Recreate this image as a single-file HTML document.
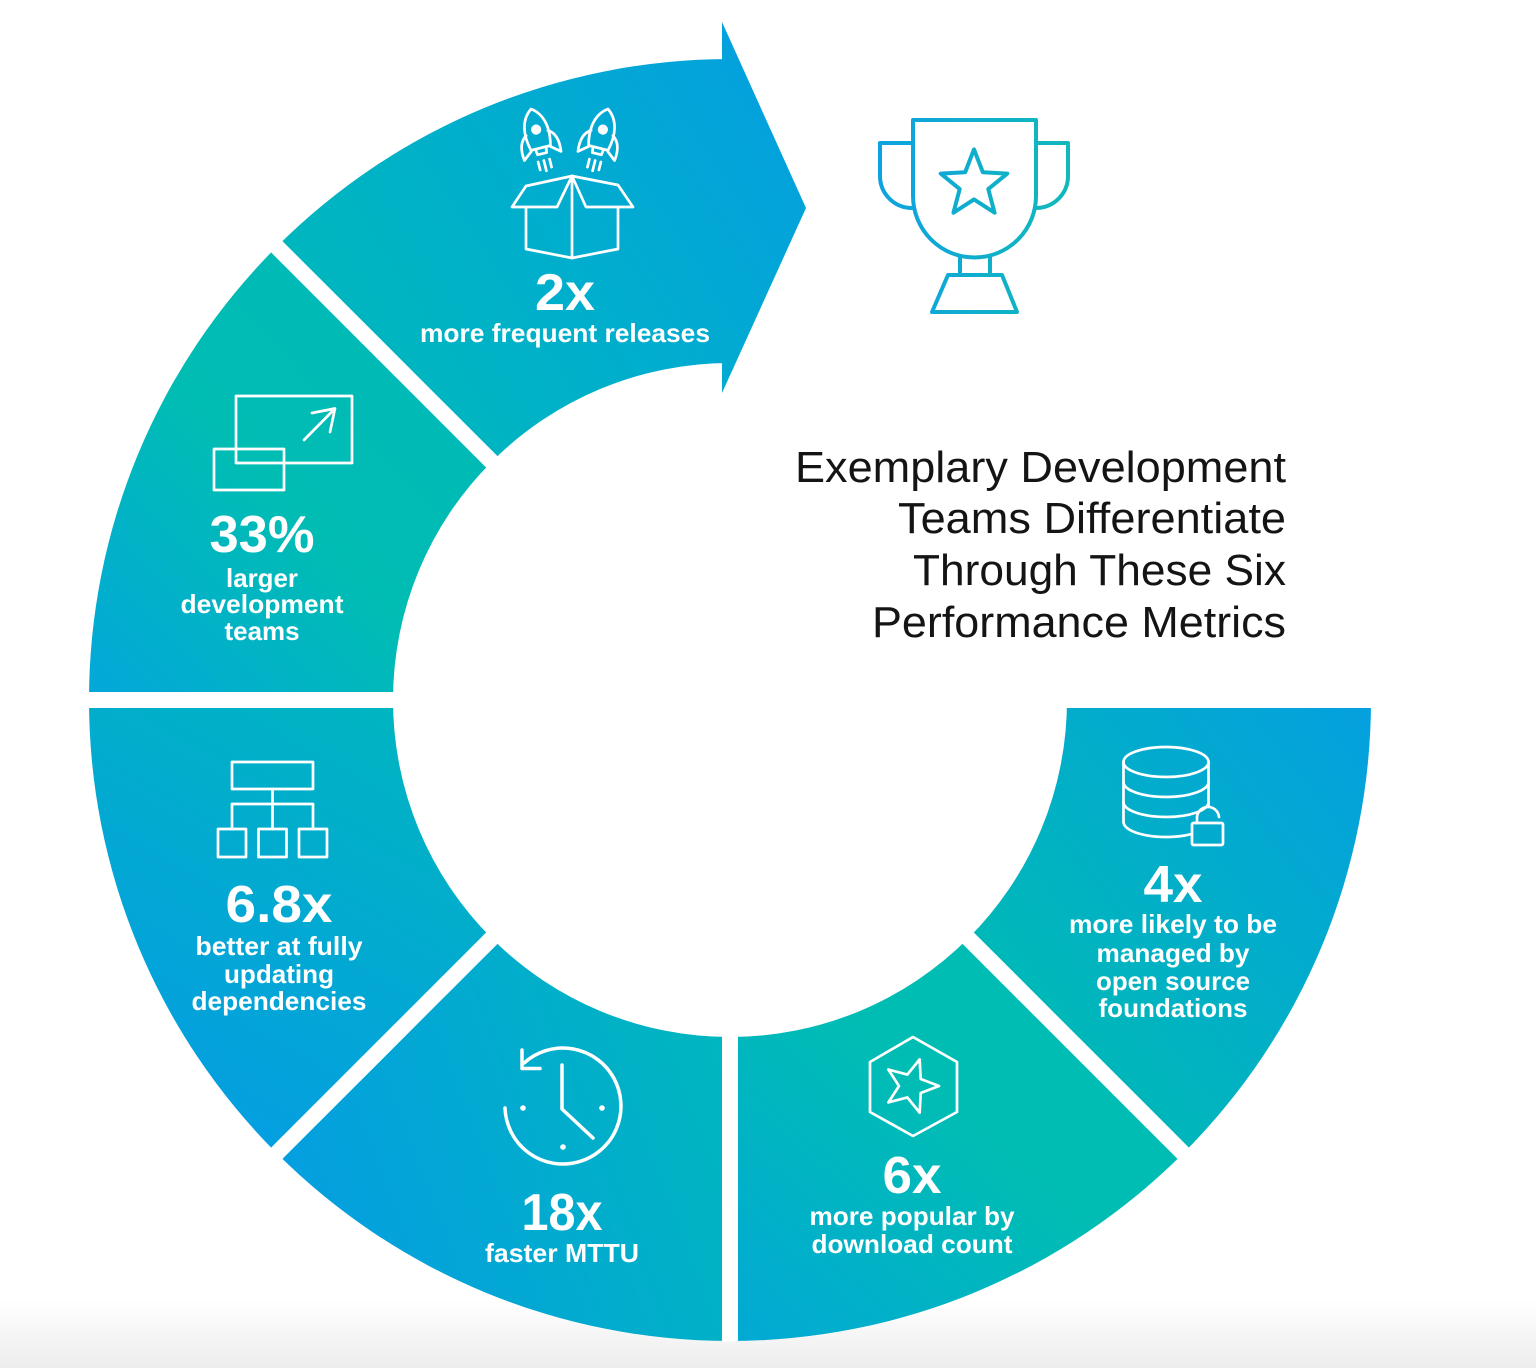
<!DOCTYPE html>
<html>
<head>
<meta charset="utf-8">
<style>
  html,body{margin:0;padding:0;background:#fff;}
  svg{display:block;}
  .lbl{font-family:"Liberation Sans",Arial,sans-serif;font-weight:bold;fill:#fff;}
  .ttl{font-family:"Liberation Sans",Arial,sans-serif;fill:#141414;font-size:44px;}
</style>
</head>
<body>
<svg width="1536" height="1368" viewBox="0 0 1536 1368" xmlns="http://www.w3.org/2000/svg">
  <defs>
    <linearGradient id="bg" x1="0" y1="1300" x2="0" y2="1368" gradientUnits="userSpaceOnUse">
      <stop offset="0" stop-color="#ffffff"/>
      <stop offset="1" stop-color="#ededed"/>
    </linearGradient>
    <linearGradient id="g2x" x1="290" y1="420" x2="800" y2="90" gradientUnits="userSpaceOnUse">
      <stop offset="0" stop-color="#00b9b7"/>
      <stop offset="0.45" stop-color="#00b0ca"/>
      <stop offset="1" stop-color="#04a0df"/>
    </linearGradient>
    <linearGradient id="g33" x1="100" y1="690" x2="420" y2="380" gradientUnits="userSpaceOnUse">
      <stop offset="0" stop-color="#03a8d8"/>
      <stop offset="0.6" stop-color="#00bdb3"/>
      <stop offset="1" stop-color="#00bab6"/>
    </linearGradient>
    <linearGradient id="g68" x1="480" y1="720" x2="250" y2="1130" gradientUnits="userSpaceOnUse">
      <stop offset="0" stop-color="#00b6bf"/>
      <stop offset="1" stop-color="#049fe0"/>
    </linearGradient>
    <linearGradient id="g18" x1="300" y1="1200" x2="720" y2="1040" gradientUnits="userSpaceOnUse">
      <stop offset="0" stop-color="#049fe0"/>
      <stop offset="1" stop-color="#00b6bf"/>
    </linearGradient>
    <linearGradient id="g6" x1="740" y1="1340" x2="950" y2="1100" gradientUnits="userSpaceOnUse">
      <stop offset="0" stop-color="#02a9d5"/>
      <stop offset="1" stop-color="#00bdb3"/>
    </linearGradient>
    <linearGradient id="g4" x1="1000" y1="1000" x2="1360" y2="720" gradientUnits="userSpaceOnUse">
      <stop offset="0" stop-color="#00b9b6"/>
      <stop offset="1" stop-color="#04a1de"/>
    </linearGradient>
    <linearGradient id="gt" x1="878" y1="0" x2="1070" y2="0" gradientUnits="userSpaceOnUse">
      <stop offset="0" stop-color="#0ea2e0"/>
      <stop offset="1" stop-color="#10b9ba"/>
    </linearGradient>
  </defs>

  <rect width="1536" height="1368" fill="#ffffff"/>
  <rect x="0" y="1300" width="1536" height="68" fill="url(#bg)"/>

  <!-- donut segments -->
  <path d="M1371,700 A641,641 0 0 1 1183.26,1153.26 L968.29,938.29 A337,337 0 0 0 1067,700 Z" fill="url(#g4)"/>
  <path d="M1183.26,1153.26 A641,641 0 0 1 730,1341 L730,1037 A337,337 0 0 0 968.29,938.29 Z" fill="url(#g6)"/>
  <path d="M730,1341 A641,641 0 0 1 276.74,1153.26 L491.71,938.29 A337,337 0 0 0 730,1037 Z" fill="url(#g18)"/>
  <path d="M276.74,1153.26 A641,641 0 0 1 89,700 L393,700 A337,337 0 0 0 491.71,938.29 Z" fill="url(#g68)"/>
  <path d="M89,700 A641,641 0 0 1 276.74,246.74 L491.71,461.71 A337,337 0 0 0 393,700 Z" fill="url(#g33)"/>
  <path d="M276.74,246.74 A641,641 0 0 1 730,59 L730,363 A337,337 0 0 0 491.71,461.71 Z" fill="url(#g2x)"/>

  <!-- gaps -->
  <g stroke="#ffffff" stroke-width="16" fill="none">
    <path d="M730,700 L1385,700"/>
    <path d="M730,700 L1189.6,1159.6"/>
    <path d="M730,700 L730,1341.5"/>
    <path d="M730,700 L270.4,1159.6"/>
    <path d="M730,700 L75,700"/>
    <path d="M730,700 L270.4,240.4"/>
    <path d="M730,700 L730,40"/>
  </g>

  <!-- arrow head -->
  <polygon points="722,22 806,208 722,393" fill="url(#g2x)"/>

  <!-- Trophy -->
  <g fill="none" stroke="url(#gt)" stroke-width="4" stroke-linejoin="round" stroke-linecap="round">
    <path d="M913,120 L1036,120 L1036,196 A61.5,61.5 0 0 1 913,196 Z"/>
    <path d="M913,143 L880,143 L880,176 A32,32 0 0 0 912,208"/>
    <path d="M1036,143 L1068,143 L1068,176 A32,32 0 0 1 1037,208"/>
    <path d="M960,257 L960,275 M990,257 L990,275"/>
    <path d="M948,275 L1002,275 L1017,312 L932,312 Z"/>
    <path d="M974,149.4 L982.82,172.26 L1007.29,173.58 L988.27,189.04 L994.57,212.72 L974,199.4 L953.43,212.72 L959.73,189.04 L940.71,173.58 L965.18,172.26 Z"/>
  </g>

  <!-- Title -->
  <text class="ttl" x="1286" y="482" text-anchor="end" textLength="491" lengthAdjust="spacingAndGlyphs">Exemplary Development</text>
  <text class="ttl" x="1286" y="533" text-anchor="end" textLength="388" lengthAdjust="spacingAndGlyphs">Teams Differentiate</text>
  <text class="ttl" x="1286" y="585" text-anchor="end" textLength="373" lengthAdjust="spacingAndGlyphs">Through These Six</text>
  <text class="ttl" x="1286" y="637" text-anchor="end" textLength="414" lengthAdjust="spacingAndGlyphs">Performance Metrics</text>

  <!-- icons (white) -->
  <g fill="none" stroke="#ffffff" stroke-width="2.7" stroke-linejoin="round" stroke-linecap="round">
    <!-- box -->
    <path d="M526,208 L526,249 L572,258 L618,249 L618,208"/>
    <path d="M572,176 L572,258"/>
    <path d="M572,176 L526,186 L512,207 L557,207 Z"/>
    <path d="M572,176 L618,185 L633,207 L586,207 Z"/>
    <!-- 33% icon -->
    <rect x="236" y="396" width="116" height="67"/>
    <rect x="214" y="449" width="70" height="41"/>
    <path d="M304,440 L335,408.5 M312,413 L335,408.5 L330,432"/>
    <!-- 6.8x icon -->
    <rect x="232" y="762" width="81" height="27"/>
    <path d="M272.5,789 L272.5,804 M232,804 L313,804 M232,804 L232,829 M272.5,804 L272.5,829 M313,804 L313,829"/>
    <rect x="218" y="829" width="28" height="28"/>
    <rect x="258.5" y="829" width="28" height="28"/>
    <rect x="299" y="829" width="28" height="28"/>
    <!-- clock -->
    <path d="M505,1108 A58,58 0 1 0 524.2,1062.9" stroke-width="3.5"/>
    <path d="M522,1050 L522,1068.5 L540,1068.5" stroke-width="3.5"/>
    <path d="M562,1065 L562,1109 L593,1138" stroke-width="3.5"/>
    <!-- hexagon star -->
    <path d="M913,1037 L957,1062 L957,1112 L913,1136 L870,1112 L870,1062 Z"/>
    <path d="M939,1086 L920.71,1093.05 L919.65,1112.63 L907.29,1097.41 L888.35,1102.46 L899,1086 L888.35,1069.54 L907.29,1074.59 L919.65,1059.37 L920.71,1078.95 Z"/>
    <!-- database -->
    <ellipse cx="1166" cy="762" rx="42.5" ry="15"/>
    <path d="M1123.5,762 L1123.5,822 M1208.5,762 L1208.5,806"/>
    <path d="M1123.5,782 A42.5,15 0 0 0 1208.5,782"/>
    <path d="M1123.5,802 A42.5,15 0 0 0 1208.5,802"/>
    <path d="M1123.5,822 A42.5,15 0 0 0 1190,834.4"/>
    <rect x="1192" y="823" width="31" height="22" rx="1.5"/>
    <path d="M1197,823 L1197,819 A11,11 0 0 1 1219,817"/>
  </g>
  <g fill="#ffffff">
    <circle cx="523" cy="1108" r="2.8"/>
    <circle cx="602" cy="1108" r="2.8"/>
    <circle cx="563" cy="1147" r="2.8"/>
  </g>

  <!-- rockets -->
  <g transform="translate(531,109) rotate(-14) scale(1.18)">
    <g fill="none" stroke="#fff" stroke-width="2.3" stroke-linejoin="round" stroke-linecap="round">
      <path d="M0,0 C10,7 12,20 8.5,34 L-8.5,34 C-12,20 -10,7 0,0 Z"/>
      <path d="M-9.5,21 C-16,25 -17,33 -16,41 L-8.5,35"/>
      <path d="M9.5,21 C16,25 17,33 16,41 L8.5,35"/>
      <path d="M-4.5,35 L-4,39 L4,39 L4.5,35"/>
      <path d="M-5,45 L-5,52 M0,45 L0,54 M5,45 L5,52"/>
    </g>
    <circle cx="0" cy="18" r="4.3" fill="#fff"/>
  </g>
  <g transform="translate(608,109) rotate(14) scale(1.18)">
    <g fill="none" stroke="#fff" stroke-width="2.3" stroke-linejoin="round" stroke-linecap="round">
      <path d="M0,0 C10,7 12,20 8.5,34 L-8.5,34 C-12,20 -10,7 0,0 Z"/>
      <path d="M-9.5,21 C-16,25 -17,33 -16,41 L-8.5,35"/>
      <path d="M9.5,21 C16,25 17,33 16,41 L8.5,35"/>
      <path d="M-4.5,35 L-4,39 L4,39 L4.5,35"/>
      <path d="M-5,45 L-5,52 M0,45 L0,54 M5,45 L5,52"/>
    </g>
    <circle cx="0" cy="18" r="4.3" fill="#fff"/>
  </g>

  <!-- labels -->
  <text class="lbl" x="565" y="310" font-size="52" text-anchor="middle" textLength="60" lengthAdjust="spacingAndGlyphs">2x</text>
  <text class="lbl" x="565" y="342" font-size="26" text-anchor="middle" textLength="290" lengthAdjust="spacingAndGlyphs">more frequent releases</text>

  <text class="lbl" x="262" y="552" font-size="52" text-anchor="middle" textLength="105" lengthAdjust="spacingAndGlyphs">33%</text>
  <text class="lbl" x="262" y="587" font-size="26" text-anchor="middle" textLength="72" lengthAdjust="spacingAndGlyphs">larger</text>
  <text class="lbl" x="262" y="613" font-size="26" text-anchor="middle" textLength="163" lengthAdjust="spacingAndGlyphs">development</text>
  <text class="lbl" x="262" y="640" font-size="26" text-anchor="middle" textLength="75" lengthAdjust="spacingAndGlyphs">teams</text>

  <text class="lbl" x="279" y="922" font-size="52" text-anchor="middle" textLength="107" lengthAdjust="spacingAndGlyphs">6.8x</text>
  <text class="lbl" x="279" y="955" font-size="26" text-anchor="middle" textLength="167" lengthAdjust="spacingAndGlyphs">better at fully</text>
  <text class="lbl" x="279" y="983" font-size="26" text-anchor="middle" textLength="110" lengthAdjust="spacingAndGlyphs">updating</text>
  <text class="lbl" x="279" y="1010" font-size="26" text-anchor="middle" textLength="175" lengthAdjust="spacingAndGlyphs">dependencies</text>

  <text class="lbl" x="562" y="1230" font-size="52" text-anchor="middle" textLength="81" lengthAdjust="spacingAndGlyphs">18x</text>
  <text class="lbl" x="562" y="1262" font-size="26" text-anchor="middle" textLength="154" lengthAdjust="spacingAndGlyphs">faster MTTU</text>

  <text class="lbl" x="912" y="1193" font-size="52" text-anchor="middle" textLength="59" lengthAdjust="spacingAndGlyphs">6x</text>
  <text class="lbl" x="912" y="1225" font-size="26" text-anchor="middle" textLength="205" lengthAdjust="spacingAndGlyphs">more popular by</text>
  <text class="lbl" x="912" y="1253" font-size="26" text-anchor="middle" textLength="201" lengthAdjust="spacingAndGlyphs">download count</text>

  <text class="lbl" x="1173" y="902" font-size="52" text-anchor="middle" textLength="59" lengthAdjust="spacingAndGlyphs">4x</text>
  <text class="lbl" x="1173" y="933" font-size="26" text-anchor="middle" textLength="208" lengthAdjust="spacingAndGlyphs">more likely to be</text>
  <text class="lbl" x="1173" y="962" font-size="26" text-anchor="middle" textLength="153" lengthAdjust="spacingAndGlyphs">managed by</text>
  <text class="lbl" x="1173" y="990" font-size="26" text-anchor="middle" textLength="154" lengthAdjust="spacingAndGlyphs">open source</text>
  <text class="lbl" x="1173" y="1017" font-size="26" text-anchor="middle" textLength="149" lengthAdjust="spacingAndGlyphs">foundations</text>
</svg>
</body>
</html>
